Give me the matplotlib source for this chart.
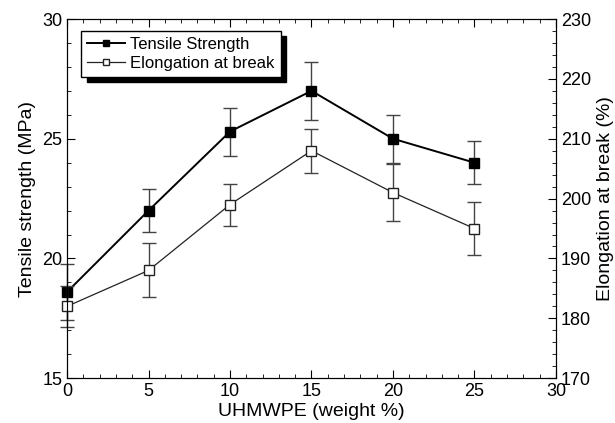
import matplotlib.pyplot as plt
from matplotlib.ticker import MultipleLocator

plt.rcParams['font.family'] = ['Liberation Sans', 'DejaVu Sans']

uhmwpe = [0, 5, 10, 15, 20, 25]
tensile = [18.6, 22.0, 25.3, 27.0, 25.0, 24.0]
tensile_err = [1.15, 0.9, 1.0, 1.2, 1.0, 0.9]
elong = [182, 188, 199, 208, 201, 195]
elong_err = [3.4, 4.5, 3.5, 3.7, 4.7, 4.4]

fig = plt.figure(figsize=(6.15, 4.23), dpi=100)
ax = fig.add_axes([0.109, 0.106, 0.795, 0.849])
ax2 = ax.twinx()

l1 = ax.errorbar(uhmwpe, tensile, yerr=tensile_err, color='black', lw=1.4,
                 marker='s', ms=6.5, mfc='black', mec='black',
                 ecolor='#444444', elinewidth=1.0, capsize=5, capthick=1.0,
                 clip_on=False, label='Tensile Strength')
l2 = ax2.errorbar(uhmwpe, elong, yerr=elong_err, color='#222222', lw=0.9,
                  marker='s', ms=6.5, mfc='white', mec='#222222', mew=1.0,
                  ecolor='#444444', elinewidth=1.0, capsize=5, capthick=1.0,
                  clip_on=False, label='Elongation at break')

ax.set_xlim(0, 30)
ax.set_ylim(15, 30)
ax2.set_ylim(170, 230)
ax.xaxis.set_major_locator(MultipleLocator(5))
ax.xaxis.set_minor_locator(MultipleLocator(1))
ax.yaxis.set_major_locator(MultipleLocator(5))
ax.yaxis.set_minor_locator(MultipleLocator(1))
ax2.yaxis.set_major_locator(MultipleLocator(10))
ax2.yaxis.set_minor_locator(MultipleLocator(2))

ax.tick_params(which='both', direction='in', top=True, labelsize=13)
ax.tick_params(which='major', length=6)
ax.tick_params(which='minor', length=3)
ax2.tick_params(which='both', direction='in', labelsize=13)
ax2.tick_params(which='major', length=6)
ax2.tick_params(which='minor', length=3)

ax.set_xlabel('UHMWPE (weight %)', fontsize=14, labelpad=2)
ax.set_ylabel('Tensile strength (MPa)', fontsize=14)
ax2.set_ylabel('Elongation at break (%)', fontsize=14)

leg = ax2.legend([l1[0], l2[0]], ['Tensile Strength', 'Elongation at break'],
                 loc='upper left', bbox_to_anchor=(0.029, 0.967),
                 borderaxespad=0, fontsize=12, frameon=True, fancybox=False,
                 framealpha=1, handlelength=2.3, markerscale=0.75,
                 borderpad=0.35, labelspacing=0.25, handletextpad=0.3,
                 shadow={'color': 'black', 'alpha': 1, 'ox': 4, 'oy': -4})
leg.get_frame().set_edgecolor('black')
leg.get_frame().set_linewidth(1.0)

fig.savefig('out.png', dpi=100)
